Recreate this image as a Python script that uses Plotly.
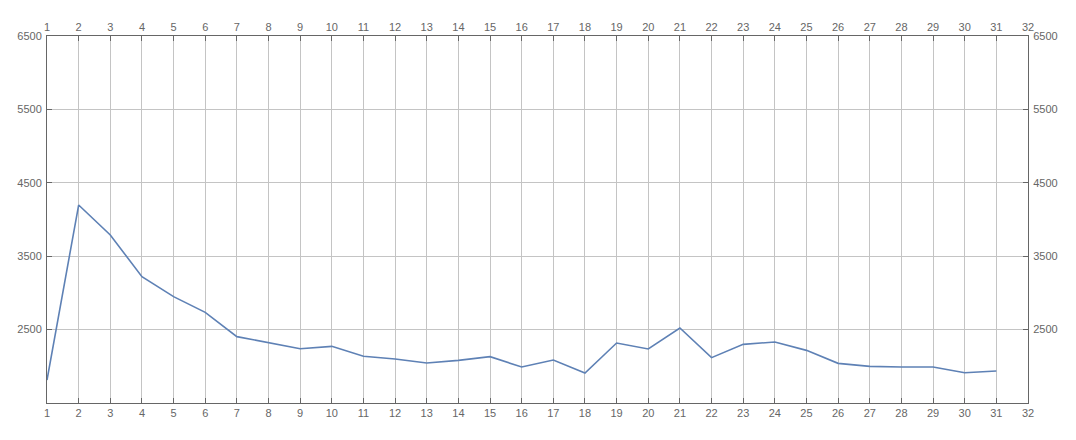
import plotly.graph_objects as go

days = list(range(1, 32))
values = [1813, 4197, 3789, 3221, 2949, 2735, 2404, 2322, 2240, 2272,
          2136, 2099, 2045, 2081, 2131, 1990, 2086, 1909, 2317, 2236,
          2522, 2118, 2299, 2331, 2217, 2040, 1999, 1990, 1990, 1913, 1936]
x_ticks = list(range(1, 33))
y_ticks = [2500, 3500, 4500, 5500, 6500]

fig = go.Figure()
fig.add_trace(go.Scatter(x=days, y=values, mode="lines",
                         line=dict(color="#5E81B5", width=1.6),
                         showlegend=False, hoverinfo="x+y"))
# invisible trace to activate secondary axes
fig.add_trace(go.Scatter(x=[days[0]], y=[values[0]], xaxis="x2", yaxis="y2",
                         mode="markers", marker=dict(opacity=0),
                         showlegend=False, hoverinfo="skip"))

axis_common = dict(
    showline=True, linecolor="#666666", linewidth=1,
    ticks="inside", ticklen=5, tickcolor="#666666",
    tickfont=dict(family="Liberation Sans, Arial, sans-serif", size=11, color="#666666"),
    zeroline=False, automargin=False,
)

fig.update_layout(
    width=1076, height=440,
    margin=dict(l=39, r=56, t=28, b=45),
    paper_bgcolor="white", plot_bgcolor="white",
    xaxis=dict(range=[1, 32], tickvals=x_ticks, showgrid=True,
               gridcolor="#c4c4c4", gridwidth=1, **axis_common),
    xaxis2=dict(range=[1, 32], tickvals=x_ticks, overlaying="x", side="top",
                matches="x", showgrid=False, **axis_common),
    yaxis=dict(range=[1500, 6500], tickvals=y_ticks, showgrid=True,
               gridcolor="#c4c4c4", gridwidth=1, ticklabelstandoff=2, **axis_common),
    yaxis2=dict(range=[1500, 6500], tickvals=y_ticks, overlaying="y", side="right",
                matches="y", showgrid=False, ticklabelstandoff=2, **axis_common),
)

fig.write_html("out.html")
